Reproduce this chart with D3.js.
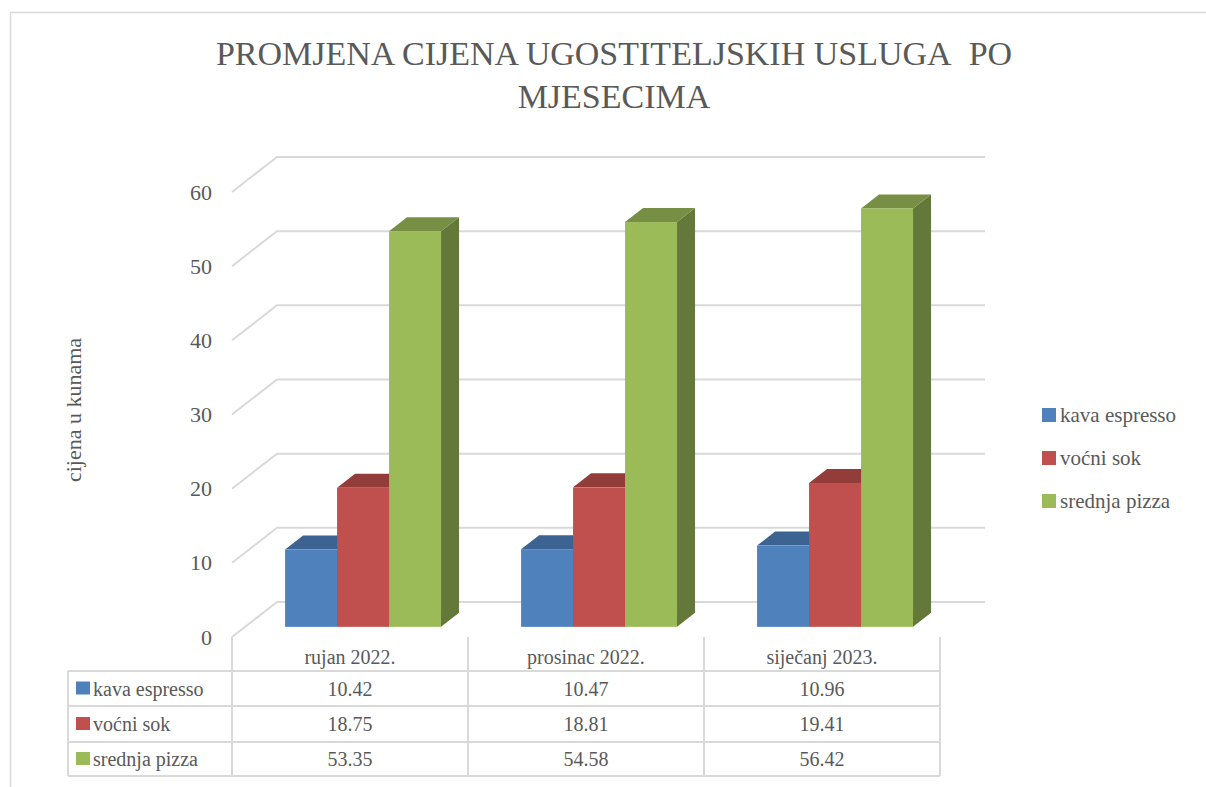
<!DOCTYPE html>
<meta charset="utf-8">
<body style="margin:0">
<script src="https://cdn.jsdelivr.net/npm/d3@7"></script>
<script>
// podaci
var categories = ["rujan 2022.", "prosinac 2022.", "siječanj 2023."];
var series = ["kava espresso", "voćni sok", "srednja pizza"];
var kava = [10.42, 10.47, 10.96];
var sok = [18.75, 18.81, 19.41];
var pizza = [53.35, 54.58, 56.42];
var yTicks = [0, 10, 20, 30, 40, 50, 60];

var values = [kava, sok, pizza];
var colors = ["#4F81BD", "#C0504D", "#9BBB59"];
var TXT = "#595959";

var svg = d3.select("body").append("svg")
    .attr("width", 1206)
    .attr("height", 787);

function styleText(sel, size) {
    sel.style("font-family", "'Liberation Serif', Tinos, 'Times New Roman', serif")
        .style("font-size", size + "px")
        .attr("fill", TXT);
}

// okvir grafa
svg.append("rect")
    .attr("x", 10.5).attr("y", 12.5)
    .attr("width", 1210).attr("height", 800)
    .attr("fill", "none").attr("stroke", "#d9d9d9").attr("stroke-width", 1.5);

// dubina 3D prikaza
var DX = 45, DY = 35;
var zFront = 0.29, zBack = 0.69;

var x = d3.scaleBand().domain(categories).range([232, 940]);
var xs = d3.scaleBand().domain(series).range([0, x.bandwidth()]).paddingOuter(0.77);
var y = d3.scaleLinear().domain([0, 60]).range([637, 192]);

// linije mreže (lijevi zid + stražnji zid)
var grid = svg.append("g");
yTicks.forEach(function(t) {
    grid.append("polyline")
        .attr("points", [[x.range()[0], y(t)], [x.range()[0] + DX, y(t) - DY], [x.range()[1] + DX, y(t) - DY]].join(" "))
        .attr("fill", "none")
        .attr("stroke", "#d9d9d9")
        .attr("stroke-width", 2);
});

// y os
var yAxis = svg.append("g")
    .attr("transform", "translate(232,0)")
    .call(d3.axisLeft(y).tickValues(yTicks).tickSize(0).tickPadding(20));
yAxis.select(".domain").remove();
yAxis.selectAll("text").call(styleText, 22);

svg.append("text")
    .attr("transform", "translate(81,410) rotate(-90)")
    .attr("text-anchor", "middle")
    .call(styleText, 22)
    .text("cijena u kunama");

// stupci
function shade(c, k) { return d3.rgb(c).darker(k).formatHex(); }

var bars = svg.append("g");
values.forEach(function(vals, si) {
    categories.forEach(function(cat, ci) {
        var v = vals[ci];
        var x0 = x(cat) + xs(series[si]), x1 = x0 + xs.bandwidth();
        var fx0 = x0 + zFront * DX, fx1 = x1 + zFront * DX;
        var bx1 = x1 + zBack * DX, bx0 = x0 + zBack * DX;
        var fyT = y(v) - zFront * DY, fyB = y(0) - zFront * DY;
        var byT = y(v) - zBack * DY, byB = y(0) - zBack * DY;
        var c = colors[si];
        bars.append("polygon")
            .attr("points", [[fx1, fyT], [bx1, byT], [bx1, byB], [fx1, fyB]].join(" "))
            .attr("fill", shade(c, 1.25));
        bars.append("polygon")
            .attr("points", [[fx0, fyT], [fx1, fyT], [bx1, byT], [bx0, byT]].join(" "))
            .attr("fill", shade(c, 0.75));
        bars.append("rect")
            .attr("x", fx0).attr("y", fyT)
            .attr("width", fx1 - fx0).attr("height", fyB - fyT)
            .attr("fill", c);
    });
});

// naslov
svg.append("text")
    .attr("x", 614).attr("y", 65)
    .attr("text-anchor", "middle")
    .call(styleText, 34)
    .text("PROMJENA CIJENA UGOSTITELJSKIH USLUGA\u00A0 PO");
svg.append("text")
    .attr("x", 614).attr("y", 108)
    .attr("text-anchor", "middle")
    .call(styleText, 34)
    .text("MJESECIMA");

// legenda
var legend = svg.append("g");
series.forEach(function(s, i) {
    var ly = 415 + i * 43;
    legend.append("rect")
        .attr("x", 1042).attr("y", ly - 7)
        .attr("width", 14).attr("height", 14)
        .attr("fill", colors[i]);
    legend.append("text")
        .attr("x", 1060).attr("y", ly + 7)
        .call(styleText, 21)
        .text(s);
});

// tablica podataka
var rowY = [637, 671, 706, 742, 776];
var tableLeft = 68, tableRight = 940;
var tbl = svg.append("g").attr("stroke", "#d9d9d9").attr("stroke-width", 2);
[232].concat(categories.map(function(c) { return x(c) + x.bandwidth(); })).forEach(function(vx) {
    tbl.append("line").attr("x1", vx).attr("x2", vx).attr("y1", rowY[0]).attr("y2", rowY[4]);
});
tbl.append("line").attr("x1", tableLeft).attr("x2", tableLeft).attr("y1", rowY[1]).attr("y2", rowY[4]);
rowY.slice(1).forEach(function(hy) {
    tbl.append("line").attr("x1", tableLeft).attr("x2", tableRight).attr("y1", hy).attr("y2", hy);
});

categories.forEach(function(cat) {
    svg.append("text")
        .attr("x", x(cat) + x.bandwidth() / 2).attr("y", 664)
        .attr("text-anchor", "middle")
        .call(styleText, 20)
        .text(cat);
});

series.forEach(function(s, si) {
    var cy = (rowY[si + 1] + rowY[si + 2]) / 2;
    svg.append("rect")
        .attr("x", 76).attr("y", cy - 7)
        .attr("width", 14).attr("height", 13)
        .attr("fill", colors[si]);
    svg.append("text")
        .attr("x", 93).attr("y", cy + 7)
        .call(styleText, 20)
        .text(s);
    categories.forEach(function(cat, ci) {
        svg.append("text")
            .attr("x", x(cat) + x.bandwidth() / 2).attr("y", cy + 7)
            .attr("text-anchor", "middle")
            .call(styleText, 20)
            .text(values[si][ci].toFixed(2));
    });
});
</script>
</body>
